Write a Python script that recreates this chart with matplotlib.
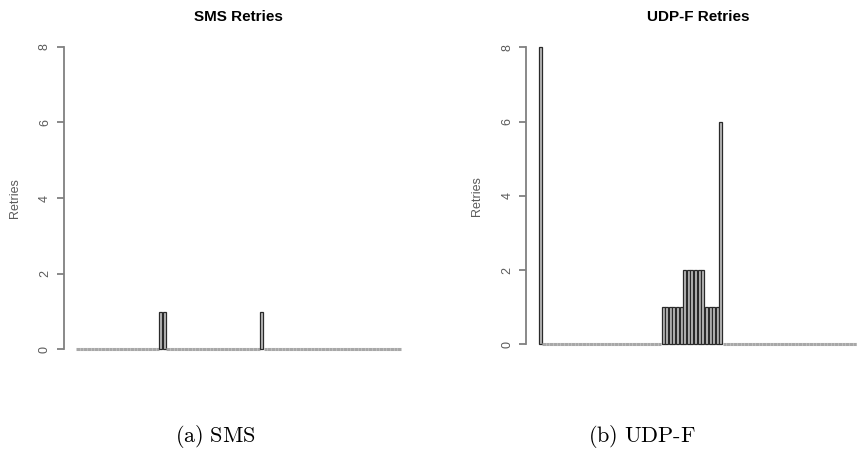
#!/usr/bin/env python3
"""Two R-style barplots of retries per message: SMS vs UDP-F."""
import matplotlib
matplotlib.use("Agg")
import matplotlib.pyplot as plt

# ---- data (one bar per message, in send order) ----
n_msgs = 90
sms_retries = [0] * 23 + [1, 1] + [0] * 26 + [1] + [0] * 38
udp_retries = ([8] + [0] * 33 + [1] * 6 + [2] * 6 + [1] * 4 + [6]
               + [0] * 39)
y_ticks = [0, 2, 4, 6, 8]

titles = ["SMS Retries", "UDP-F Retries"]
captions = [r"$\mathrm{(a)\ SMS}$", r"$\mathrm{(b)\ UDP\text{-}F}$"]

plt.rcParams.update({
    "font.family": ["Liberation Sans", "DejaVu Sans"],
    "mathtext.fontset": "cm",
})

FILL = "#bebebe"      # R "grey"
AXIS = "#808080"
TXT = "#5a5a5a"


def r_barplot(ax, values, title_xy, title):
    n = len(values)
    x = [0.7 + 1.2 * i for i in range(n)]
    # zero-height bars only show as their border; let them touch so the
    # baseline reads as one continuous grey line, like the R device output
    widths = [1.0 if v > 0 else 1.2 for v in values]
    edges = ["#2a2a2a" if v > 0 else "#a8a8a8" for v in values]
    lws = [0.9 if v > 0 else 2.2 for v in values]
    ax.bar(x, values, width=widths, color=FILL, edgecolor=edges,
           linewidth=lws, zorder=2)
    # R default axis extension of 4 %
    span = 1.2 * n - 0.2
    ax.set_xlim(0.2 - 0.04 * span, 1.2 * n + 0.04 * span)
    ax.set_ylim(-0.32, 8.32)

    for s in ("top", "right", "bottom"):
        ax.spines[s].set_visible(False)
    ax.spines["left"].set_bounds(0, 8)
    ax.spines["left"].set_color(AXIS)
    ax.spines["left"].set_linewidth(1.3)
    ax.set_xticks([])
    ax.set_yticks(y_ticks)
    ax.set_yticklabels([str(t) for t in y_ticks], rotation=90, va="center")
    ax.tick_params(axis="y", length=5, width=1.3, color=AXIS,
                   labelsize=9, labelcolor=TXT, pad=4)
    ax.set_ylabel("Retries", fontsize=9, color=TXT)
    ax.yaxis.set_label_coords(-0.122, 0.5)
    fig.text(title_xy[0], title_xy[1], title, fontsize=11,
             fontweight="bold", ha="center", va="center")


fig = plt.figure(figsize=(8.57, 4.59), dpi=100)
ax1 = fig.add_axes([63.5 / 857, 1 - 361.4 / 459, 350 / 857, 326.6 / 459])
ax2 = fig.add_axes([526.0 / 857, 1 - 356.2 / 459, 350 / 857, 320.8 / 459])

r_barplot(ax1, sms_retries, (238 / 857, 1 - 17 / 459), titles[0])
r_barplot(ax2, udp_retries, (698 / 857, 1 - 17 / 459), titles[1])

fig.text(215 / 857, 1 - 437 / 459, captions[0], fontsize=16,
         ha="center", va="center")
fig.text(642 / 857, 1 - 437 / 459, captions[1], fontsize=16,
         ha="center", va="center")

fig.savefig("out.png", dpi=100)
